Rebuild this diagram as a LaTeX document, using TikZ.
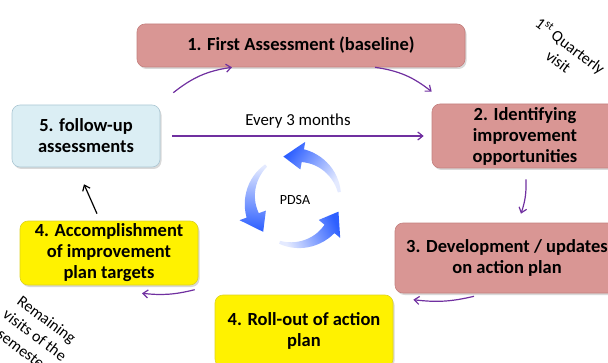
\documentclass[tikz,border=0pt]{standalone}
\usepackage{fontspec}
\setmainfont{Carlito}
\usetikzlibrary{arrows.meta, shadows, positioning}

\definecolor{rosebox}{RGB}{217,150,148}
\definecolor{roseline}{RGB}{196,128,126}
\definecolor{bluebox}{RGB}{219,238,244}
\definecolor{blueline}{RGB}{172,200,212}
\definecolor{loopline}{RGB}{112,48,160}
\definecolor{pdsablue}{RGB}{45,95,255}
\definecolor{pdsapale}{RGB}{228,234,255}

\tikzset{
  stage/.style={draw, rounded corners=8pt, align=center, inner sep=0pt,
    font=\bfseries\fontsize{18.5}{21}\selectfont, line width=0.6pt,
    drop shadow={opacity=0.3, shadow xshift=1.5pt, shadow yshift=-2pt}},
  assess/.style={stage, fill=rosebox, draw=roseline},
  review/.style={stage, fill=bluebox, draw=blueline},
  target/.style={stage, fill=yellow, draw=yellow!85!black},
  flow/.style={draw=loopline, line width=1.2pt, -{Straight Barb[length=5pt,width=8pt]}},
  note/.style={align=center, font=\fontsize{16}{19.5}\selectfont},
}

\begin{document}
\begin{tikzpicture}[x=1pt, y=1pt]
    \useasboundingbox (0,0) rectangle (608,362);
    \clip (0,0) rectangle (608,362);

    % the stages of the visit cycle
    \node[assess, minimum width=328pt, minimum height=43pt] (first) at (301,316.5) {1. First Assessment (baseline)};
    \node[assess, minimum width=186pt, minimum height=64pt] (ident) at (525,226) {2. Identifying\\improvement\\opportunities};
    \node[assess, minimum width=224pt, minimum height=70pt] (develop) at (507,104) {3. Development / updates\\on action plan};
    \node[target, minimum width=178pt, minimum height=72pt] (rollout) at (304,31) {4. Roll-out of action\\plan};
    \node[target, minimum width=178pt, minimum height=64pt] (accomp) at (109,109) {4. Accomplishment\\of improvement\\plan targets};
    \node[review, minimum width=148pt, minimum height=62pt] (followup) at (86,226) {5. follow-up\\assessments};

    % connectors between stages
    \draw[flow] ([shift={(13pt,12pt)}]followup.north east) to[bend left=15] ([xshift=-69pt]first.south);
    \draw[flow] ([xshift=74pt]first.south) to[bend left=15] ([yshift=12pt]ident.north west);
    \draw[flow] ([xshift=12pt]followup.east) -- ([xshift=-8pt]ident.west)
        node[midway, above=4pt, font=\fontsize{16.8}{19}\selectfont] (every) {Every 3 months};
    \draw[flow] ([shift={(1pt,-11pt)}]ident.south) to[bend left=10] ([shift={(14pt,9pt)}]develop.north);
    \draw[flow] ([shift={(-33pt,-3pt)}]develop.south) to[bend left=10] ([shift={(20pt,-5pt)}]rollout.north east);
    \draw[flow] ([shift={(-20pt,5pt)}]rollout.north west) to[bend left=10] ([shift={(33pt,-8pt)}]accomp.south);
    \draw[line width=1.2pt, -{Straight Barb[length=5pt,width=8pt]}] ([shift={(-12pt,7pt)}]accomp.north) -- ([shift={(-2pt,-17pt)}]followup.south);

    % side notes
    \node[note, rotate=-37] (quarter) at (565,309) {1\textsuperscript{st} Quarterly\\visit};
    \node[note, rotate=-37] (remain) at (35,27) {Remaining\\visits of the\\semester};

    % PDSA loop in the middle
    \begin{scope}[shift={(295,162)}]
        \foreach \a/\g in {10/235, 130/355, 250/115} {
            \shade[top color=pdsapale, bottom color=pdsablue, shading angle=\g]
                plot[smooth, domain=0:1, samples=15] ({\a+70*\x}:{45+1.5+5*\x})
                -- ({\a+70}:{59}) -- ({\a+95}:{45}) -- ({\a+70}:{31})
                -- plot[smooth, domain=1:0, samples=15] ({\a+70*\x}:{45-1.5-5*\x}) -- cycle;
        }
        \node[font=\fontsize{14}{16}\selectfont] (pdsa) at (0,0) {PDSA};
    \end{scope}
\end{tikzpicture}
\end{document}
